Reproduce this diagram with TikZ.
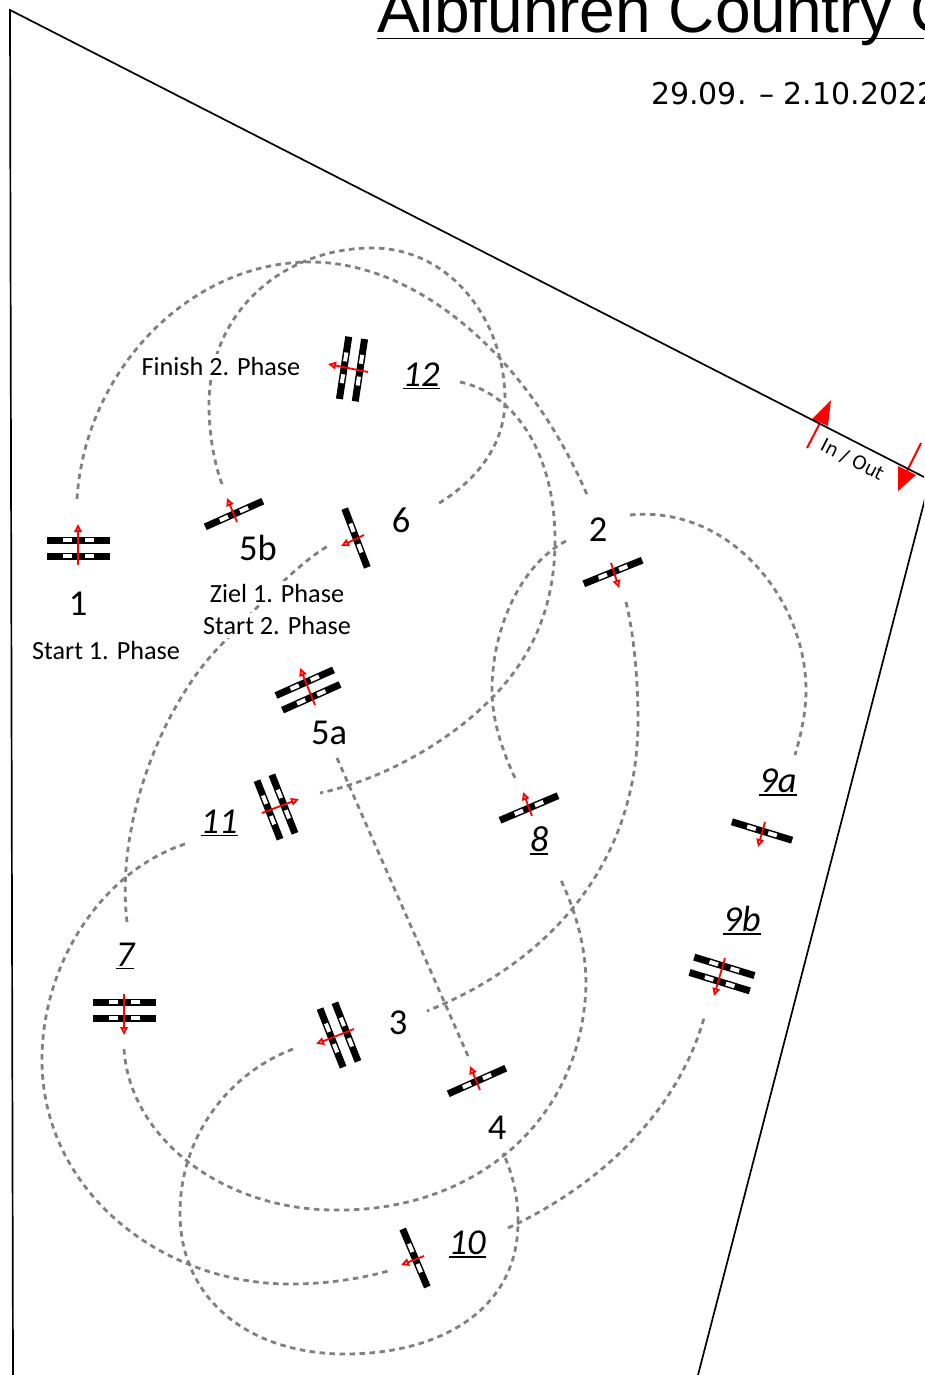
\documentclass[tikz,border=0pt]{standalone}
\usepackage{fontspec}
\setmainfont{Carlito}
\newfontfamily\titlefont{Liberation Sans}
\newfontfamily\datefont{DejaVu Sans}
\usetikzlibrary{arrows.meta}
\definecolor{routegrey}{RGB}{128,128,128}
\tikzset{
  route/.style={draw=routegrey,line width=2.8pt,dash pattern=on 5.5pt off 4.5pt},
  frameline/.style={draw=black,line width=1.7pt},
  dirarrow/.style={draw=red,line width=1.8pt,-{Triangle[open,length=8pt,width=7.5pt]}},
  inoutline/.style={draw=red,line width=2pt},
  bignum/.style={anchor=base,inner sep=0pt,font=\fontsize{36.5}{42}\selectfont},
  phase/.style={anchor=base,inner sep=0pt,font=\fontsize{26.2}{30}\selectfont},
  maskphase/.style={phase,fill=white,inner sep=3pt},
}
\newcommand{\ulabel}[1]{\vtop{\hbox{\itshape #1}\kern 2pt\hrule height 1.3pt}}
% one bar of a gate at perpendicular offset #1
\newcommand{\gatebar}[1]{%
  \fill[black] (-31.5,#1-3.5) rectangle (31.5,#1+3.5);
  \fill[white] (-15.5,#1-2) rectangle (-6.5,#1+2);
  \fill[white] (6.5,#1-2) rectangle (15.5,#1+2);
}
% name, centre, angle, tail, tip
\newcommand{\singlegate}[5]{%
  \coordinate (#1) at (#2);
  \begin{scope}[shift={(#2)},rotate=#3]\gatebar{0}\end{scope}
  \coordinate (#1-tail) at (#4);
  \coordinate (#1-tip) at (#5);
  \draw[dirarrow] (#1-tail) -- (#1-tip);
}
\newcommand{\doublegate}[5]{%
  \coordinate (#1) at (#2);
  \begin{scope}[shift={(#2)},rotate=#3]\gatebar{-8}\gatebar{8}\end{scope}
  \coordinate (#1-tail) at (#4);
  \coordinate (#1-tip) at (#5);
  \draw[dirarrow] (#1-tail) -- (#1-tip);
}
\begin{document}
\begin{tikzpicture}[x=1pt,y=-1pt]
\useasboundingbox (0,0) rectangle (924,1375);
\clip (0,0) rectangle (924,1375);
\fill[white] (0,0) rectangle (924,1375);

% title and date
\node[anchor=base west,inner sep=0pt,font=\titlefont\fontsize{64}{70}\selectfont] (title) at (377,33) {Albfuhren Country C};
\coordinate (ruleA) at (377,38.5);
\coordinate (ruleB) at (924,38.5);
\draw[frameline] (ruleA) -- (ruleB);
\node[anchor=base west,inner sep=0pt,font=\datefont\fontsize{30}{34}\selectfont] (date) at (651,104.5) {29.09. – 2.10.2022};

% entrance arrows
\coordinate (inTail) at (807,448);
\coordinate (inBase) at (820,423);
\coordinate (outTail) at (921,443);
\coordinate (outBase) at (907,471);
\draw[inoutline] (inTail) -- (inBase);
\draw[inoutline] (outTail) -- (outBase);
\fill[red] (831,400) -- (812,419) -- (828,426) -- cycle;
\fill[red] (898,491) -- (898,466) -- (916,475) -- cycle;

% frame
\coordinate (fTL) at (10,10);
\coordinate (fBL) at (13,1375);
\coordinate (fR) at (924,477);
\coordinate (fR2) at (926,495);
\coordinate (fBR) at (698,1375);
\draw[frameline] (fBL) -- (fTL) -- (fR);
\draw[frameline] (fR2) -- (fBR);
\node[rotate=-27,inner sep=0pt,font=\datefont\fontsize{18.5}{22}\selectfont] (inout) at (852.5,460) {In / Out};

% route ends
\coordinate (r1a) at (77,499);   \coordinate (r1b) at (588,497);
\coordinate (r2a) at (222,484);  \coordinate (r2b) at (436,505);
\coordinate (r3a) at (460,382);  \coordinate (r3b) at (320,793);
\coordinate (r4a) at (566,541);  \coordinate (r4b) at (515,778);
\coordinate (r5a) at (626,602);  \coordinate (r5b) at (427,1011);
\coordinate (r6a) at (630,515);  \coordinate (r6b) at (795,755);
\coordinate (r7a) at (337,758);  \coordinate (r7b) at (468,1056);
\coordinate (r8a) at (185,844);  \coordinate (r8b) at (388,1271);
\coordinate (r9a) at (124,1049); \coordinate (r9b) at (560,878);
\coordinate (r10a) at (293,1049);\coordinate (r10b) at (503,1153);
\coordinate (r11a) at (508,1228);\coordinate (r11b) at (704,1018);
\coordinate (r12a) at (127,922); \coordinate (r12b) at (328,546);

% routes
\draw[route] (r1a) .. controls (85,370) and (190,262) .. (310,262) .. controls (420,262) and (530,360) .. (r1b);
\draw[route] (r2a) .. controls (213,460) and (209,430) .. (209,405) .. controls (209,310) and (285,248) .. (372,248) .. controls (450,248) and (505,320) .. (505,400) .. controls (505,450) and (470,485) .. (r2b);
\draw[route] (r3a) .. controls (520,395) and (555,460) .. (555,540) .. controls (555,610) and (530,660) .. (490,700) .. controls (445,745) and (380,780) .. (r3b);
\draw[route] (r4a) .. controls (520,565) and (492,630) .. (492,690) .. controls (492,720) and (502,750) .. (r4b);
\draw[route] (r5a) .. controls (634,635) and (638,680) .. (638,720) .. controls (638,880) and (530,970) .. (r5b);
\draw[route] (r6a) .. controls (730,505) and (806,600) .. (806,690) .. controls (806,712) and (801,735) .. (r6b);
\draw[route] (r7a) -- (r7b);
\draw[route] (r8a) .. controls (105,870) and (42,960) .. (42,1060) .. controls (42,1190) and (160,1284) .. (290,1284) .. controls (325,1284) and (360,1279) .. (r8b);
\draw[route] (r9a) .. controls (130,1140) and (225,1210) .. (335,1210) .. controls (470,1212) and (582,1125) .. (586,985) .. controls (586,945) and (575,910) .. (r9b);
\draw[route] (r10a) .. controls (225,1075) and (180,1140) .. (180,1213) .. controls (180,1300) and (250,1354) .. (345,1354) .. controls (440,1354) and (518,1310) .. (518,1222) .. controls (518,1195) and (512,1172) .. (r10b);
\draw[route] (r11a) .. controls (590,1190) and (675,1120) .. (r11b);
\draw[route] (r12a) .. controls (115,820) and (165,700) .. (223,643) .. controls (250,615) and (295,565) .. (r12b);

% gates
\singlegate{g5b}{234,514}{24}{237,522}{227,498}
\singlegate{g6}{356,538}{-69}{364,535}{341,546}
\doublegate{g12}{352,369}{81.5}{368,372}{328,364}
\singlegate{g2}{613,572}{22}{611,563}{619,588}
\doublegate{g5a}{308,690}{24}{315,705}{300,668}
\doublegate{g11}{276,807}{-68.5}{262,813}{299,799}
\singlegate{g8}{529,808}{23}{532,816}{523,792}
\singlegate{g9a}{762,831}{-17}{765,822}{758,847}
\doublegate{g9b}{722,974}{-17}{725,958}{714,996}
\doublegate{g1}{78.5,548}{0}{78,565}{78,524}
\doublegate{g7}{124.5,1010}{0}{124,994}{124,1035}
\doublegate{g3}{339,1035}{-68.5}{354,1029}{316,1044}
\singlegate{g4}{477,1081}{24}{480,1090}{470,1066}
\singlegate{g10}{415,1258}{-67}{424,1256}{401,1265}

% text labels
\node[maskphase] (tFinish) at (221,375) {Finish 2. Phase};
\node[maskphase] (tZiel) at (277,602) {Ziel 1. Phase};
\node[maskphase] (tStart2) at (277,634.5) {Start 2. Phase};
\node[phase] (tStart1) at (106,659) {Start 1. Phase};
\node[bignum] (n1) at (78,615) {1};
\node[bignum] (n5b) at (258,560) {5b};
\node[bignum] (n6) at (401,532.5) {6};
\node[bignum] (n2) at (598,541) {2};
\node[bignum] (n5a) at (329,744) {5a};
\node[bignum] (n3) at (398,1034) {3};
\node[bignum] (n4) at (497,1139) {4};
\node[bignum] (n12) at (421,386) {\ulabel{12}};
\node[bignum] (n11) at (219,833) {\ulabel{11}};
\node[bignum] (n8) at (539,851) {\ulabel{8}};
\node[bignum] (n9a) at (778,792) {\ulabel{9a}};
\node[bignum] (n9b) at (742,931) {\ulabel{9b}};
\node[bignum] (n7) at (125,966) {\ulabel{7}};
\node[bignum] (n10) at (467,1254) {\ulabel{10}};
\end{tikzpicture}
\end{document}
